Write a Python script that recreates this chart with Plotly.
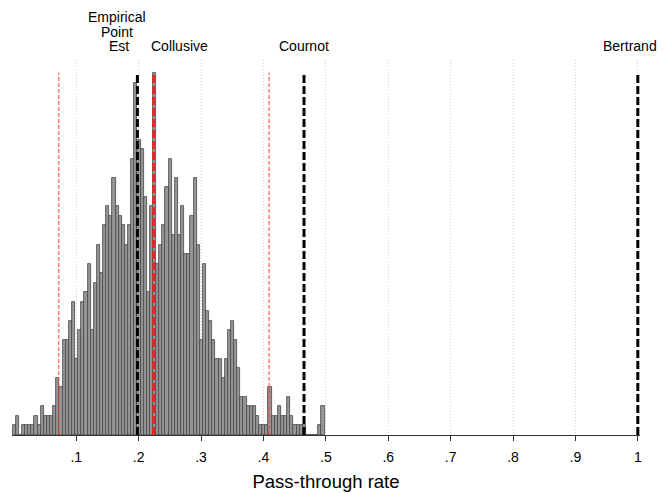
import plotly.graph_objects as go

# ---- data ----
bin_start = -0.002
bin_width = 0.005
counts = [
    1, 2, 0, 1, 1, 1, 1, 2, 1, 3,
    2, 2, 2, 3, 6, 5, 10, 10, 12, 14,
    8, 11, 14, 15, 18, 11, 16, 20, 17, 22,
    24, 23, 27, 24, 23, 22, 20, 22, 29, 37,
    31, 30, 25, 15, 24, 38, 18, 20, 22, 26,
    29, 21, 27, 21, 24, 19, 19, 23, 27, 20,
    10, 18, 13, 12, 10, 8, 8, 6, 8, 11,
    12, 10, 7, 4, 4, 3, 3, 3, 2, 1,
    1, 1, 5, 2, 2, 3, 2, 2, 4, 2,
    1, 1, 1, 1, 0, 0, 0, 0, 1, 3,
]
ci_lines = [0.072, 0.409]          # thin red dashed
empirical = 0.198
collusive = 0.224
cournot = 0.465
bertrand = 1.0
tick_vals = [0.1, 0.2, 0.3, 0.4, 0.5, 0.6, 0.7, 0.8, 0.9, 1.0]
tick_text = [".1", ".2", ".3", ".4", ".5", ".6", ".7", ".8", ".9", "1"]
x_title = "Pass-through rate"

centers = [bin_start + bin_width * (i + 0.5) for i in range(len(counts))]

FONT = "Liberation Sans, Arial, Helvetica, sans-serif"
line_top = 38.05

fig = go.Figure()
fig.add_trace(go.Bar(
    x=centers, y=counts, width=[bin_width] * len(counts),
    marker=dict(color="#969696", line=dict(color="#474747", width=0.8)),
    showlegend=False, hoverinfo="skip",
))

shapes = []
for v in ci_lines:
    shapes.append(dict(type="line", xref="x", yref="y", x0=v, x1=v, y0=0, y1=line_top,
                       line=dict(color="#ff3a3a", width=1, dash="4px,2px"), layer="above"))
for v in [empirical, cournot, bertrand]:
    shapes.append(dict(type="line", xref="x", yref="y", x0=v, x1=v, y0=0, y1=line_top,
                       line=dict(color="#000000", width=3, dash="8px,3px"), layer="above"))
shapes.append(dict(type="line", xref="x", yref="y", x0=collusive, x1=collusive, y0=0, y1=line_top,
                   line=dict(color="#e8252a", width=3, dash="8px,3px"), layer="above"))

def py(pix):
    # page pixel y -> paper coordinate (plot area spans page y 60..438)
    return (438 - pix) / 378.0

annos = []
for txt, xv, ypix, anchor, shift in [
        ("Empirical", 0.166, 17, "center", 0), ("Point", 0.166, 31.5, "center", 0),
        ("Est", 0.169, 46, "center", 0), ("Collusive", 0.266, 46, "center", 0),
        ("Cournot", cournot, 46, "center", 0), ("Bertrand", bertrand, 46, "right", 21)]:
    annos.append(dict(text=txt, x=xv, xref="x", y=py(ypix), yref="paper", showarrow=False,
                      xanchor=anchor, yanchor="middle", xshift=shift,
                      font=dict(family=FONT, size=14, color="#000000")))

# page has an 8px body margin: figure occupies page x 8..666, y 8..493
fig.update_layout(
    width=658, height=485,
    margin=dict(l=4, r=26, t=52, b=55, pad=0),
    paper_bgcolor="white", plot_bgcolor="white",
    bargap=0,
    shapes=shapes, annotations=annos,
    xaxis=dict(range=[-0.003, 1.0035], tickvals=tick_vals, ticktext=tick_text,
               showgrid=True, gridcolor="#d2d2d2", griddash="1px,2px", gridwidth=1,
               zeroline=False, showline=True, linecolor="#333333", linewidth=1,
               ticks="outside", ticklen=5, tickcolor="#333333",
               ticklabelstandoff=4,
               tickfont=dict(family=FONT, size=14, color="#000000"),
               title=dict(text=x_title, font=dict(family=FONT, size=18.5, color="#000000"), standoff=11)),
    yaxis=dict(range=[0, 39.375], visible=False, showgrid=False, zeroline=False),
)

fig.write_html("out.html")
